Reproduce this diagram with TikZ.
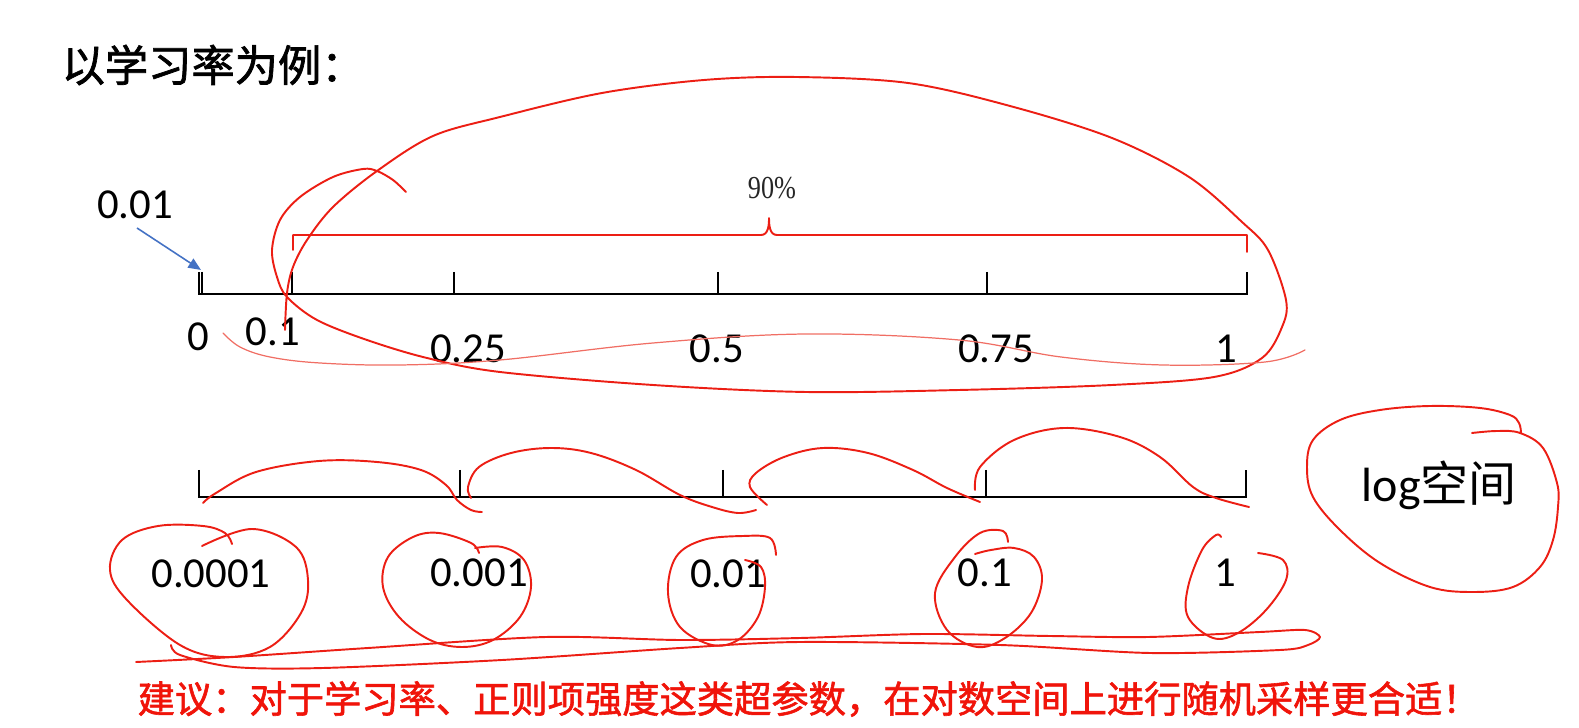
\documentclass[tikz,border=0pt]{standalone}
\usepackage{fontspec}
\setmainfont{Carlito}
\newfontfamily\cjk{Noto Sans CJK SC}
\newfontfamily\cjkheavy[FakeBold=1.6]{Noto Sans CJK SC}
\newfontfamily\serifnum{Liberation Serif}
\usetikzlibrary{arrows.meta}
\definecolor{hand}{RGB}{236,30,20}
\definecolor{handlight}{RGB}{240,110,100}
\definecolor{arrowblue}{RGB}{68,114,196}
\definecolor{tipred}{RGB}{240,20,10}
\begin{document}
\begin{tikzpicture}[x=0.01cm,y=-0.01cm,
  axisline/.style={line width=0.6pt, black},
  handline/.style={draw=hand, line width=0.55pt, line cap=round, line join=round},
  thinhand/.style={draw=handlight, line width=0.35pt, line cap=round},
  num/.style={inner sep=0pt, font=\fontsize{12.15}{14}\selectfont},
  bluearrow/.style={draw=arrowblue, line width=0.45pt, -{Triangle[length=3.6pt,width=3pt]}}
]
\useasboundingbox (0,0) rectangle (1579,728);

% title
\node[anchor=west, inner sep=0pt, font=\cjkheavy\fontsize{12.3}{14}\selectfont] (title) at (61,65) {以学习率为例：};

% ---------- top (linear) axis ----------
\draw[axisline] (199,272) -- (199,294) -- (1247,294) -- (1247,272);
\draw[axisline] (202,272) -- (202,294);
\foreach \x in {292,454,718,987} \draw[axisline] (\x,272) -- (\x,294);
\coordinate (tick001) at (201,270);

\node[num] (t0)   at (198,337) {0};
\node[num] (t01)  at (273,332) {0.1};
\node[num] (t025) at (468,349) {0.25};
\node[num] (t05)  at (717,349) {0.5};
\node[num] (t075) at (996,349) {0.75};
\node[num] (t1)   at (1226,349) {1};

\node[num] (n001) at (135,205) {0.01};
\coordinate (arrs) at (137,228);
\draw[bluearrow] (arrs) -- (tick001);

% bracket 90%
\draw[handline] (293,250) -- (293,235) -- (761,235) to[out=0,in=-90] (769,218) to[out=-90,in=180] (777,235) -- (1247,235) -- (1247,252);
\node[inner sep=0pt, text=black!85, font=\serifnum\fontsize{9.1}{11}\selectfont] (p90) at (772,188) {\scalebox{0.82}[1]{90\%}};

% big hand-drawn loop
\draw[handline] plot[smooth, tension=0.55] coordinates {
 (406,192) (393,180) (377,171) (363,169) (333,177) (300,197) (280,220) (272,250)
 (277,277) (287,297) (317,320) (367,340) (427,358) (500,372) (653,385) (806,392)
 (959,390) (1112,385) (1214,377) (1262,358) (1282,327) (1286,300) (1268,250)
 (1242,222) (1189,177) (1112,138) (1010,106) (908,83) (796,77) (704,80) (602,93)
 (500,117) (433,136) (377,171) (333,207) (307,240) (293,267) (287,293) (285,330)};

% thin wavy line under top labels
\draw[thinhand] plot[smooth, tension=0.6] coordinates {
 (223,333) (240,347) (270,357) (320,363) (400,365) (500,360) (653,343) (806,334)
 (959,340) (1061,357) (1163,365) (1265,362) (1305,350)};

% ---------- bottom (log) axis ----------
\draw[axisline] (199,470) -- (199,497) -- (1246,497) -- (1246,470);
\foreach \x in {460,723,986} \draw[axisline] (\x,470) -- (\x,497);

\node[num] (b1) at (211,574) {0.0001};
\node[num] (b2) at (479,573) {0.001};
\node[num] (b3) at (728,574) {0.01};
\node[num] (b4) at (985,573) {0.1};
\node[num] (b5) at (1225,573) {1};

\node[anchor=base west, inner sep=0pt, font=\fontsize{13.66}{16}\selectfont] (logsp) at (1361,502) {log{\cjk 空间}};

% arcs over the log axis
\draw[handline] plot[smooth, tension=0.6] coordinates {
 (203,503) (216,493) (256,472) (319,461) (377,462) (421,470) (446,485) (457,500) (471,510) (482,512)};
\draw[handline] plot[smooth, tension=0.6] coordinates {
 (471,498) (468,487) (479,467) (511,453) (551,448) (591,453) (636,470) (680,495) (712,507) (738,513) (756,510)};
\draw[handline] plot[smooth, tension=0.6] coordinates {
 (767,505) (750,487) (756,473) (784,457) (823,448) (868,453) (913,470) (947,488) (980,502)};
\draw[handline] plot[smooth, tension=0.6] coordinates {
 (975,490) (980,467) (1014,440) (1064,428) (1120,437) (1160,457) (1193,487) (1216,498) (1249,507)};

% circles round the values
\draw[handline] plot[smooth, tension=0.6] coordinates {
 (202,546) (252,529) (296,547) (308,580) (301,613) (270,647) (225,657) (180,645)
 (127,600) (110,570) (122,540) (158,526) (203,526) (225,533) (232,544)};
\draw[handline] plot[smooth, tension=0.6] coordinates {
 (475,548) (502,547) (524,560) (531,587) (520,617) (493,640) (462,647) (430,640)
 (399,617) (383,587) (388,557) (413,537) (439,533) (471,543) (479,553)};
\draw[handline] plot[smooth, tension=0.6] coordinates {
 (776,555) (770,538) (743,536) (703,540) (676,557) (668,593) (680,627) (712,645)
 (738,640) (758,617) (765,587) (761,567) (745,560)};
\draw[handline] plot[smooth, tension=0.6] coordinates {
 (1008,542) (1003,531) (980,533) (955,557) (935,593) (947,630) (977,647) (1005,638)
 (1031,613) (1042,580) (1034,557) (1014,548) (991,550) (975,554)};
\draw[handline] plot[smooth, tension=0.6] coordinates {
 (1221,537) (1216,535) (1202,550) (1188,587) (1188,617) (1213,638) (1238,633)
 (1266,610) (1286,580) (1283,560) (1258,553)};
\draw[handline] plot[smooth, tension=0.6] coordinates {
 (1472,433) (1497,431) (1520,433) (1543,448) (1557,483) (1558,507) (1553,540)
 (1540,567) (1513,587) (1473,592) (1430,587) (1380,563) (1340,530) (1313,497)
 (1307,467) (1313,440) (1340,420) (1380,410) (1430,406) (1480,408) (1510,415)
 (1519,423) (1521,433)};

% long underline loop
\draw[handline] plot[smooth, tension=0.5] coordinates {
 (136,662) (234,657) (368,648) (546,637) (680,640) (800,638) (924,634) (1050,636)
 (1148,637) (1260,632) (1305,630) (1320,637) (1308,645) (1280,650) (1150,653)
 (1000,645) (800,642) (680,648) (502,660) (323,668) (234,667) (180,655) (171,645)};

% recommendation
\node[anchor=west, inner sep=0pt, text=tipred, font=\cjkheavy\fontsize{10.6}{12}\selectfont] (tip) at (137,699) {建议：对于学习率、正则项强度这类超参数，在对数空间上进行随机采样更合适！};
\end{tikzpicture}
\end{document}
